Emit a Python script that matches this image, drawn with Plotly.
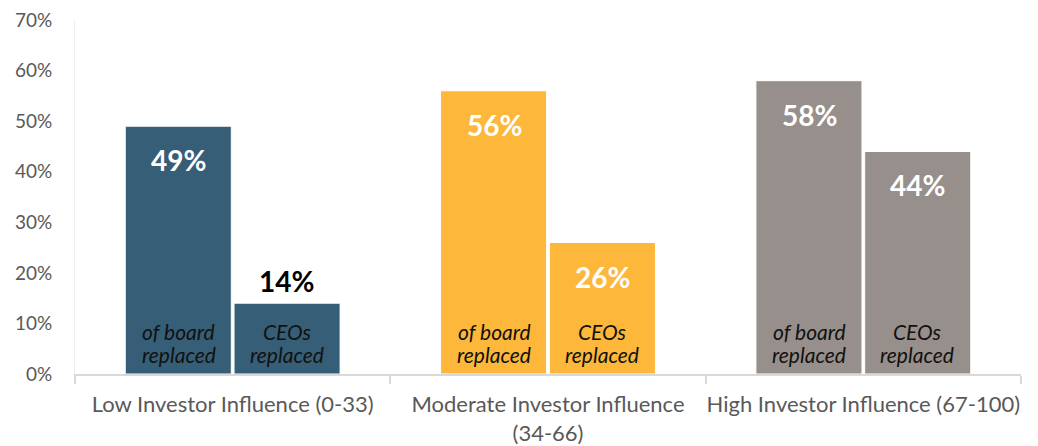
import plotly.graph_objects as go

categories = ["Low Investor Influence (0-33)", "Moderate Investor Influence<br>(34-66)", "High Investor Influence (67-100)"]
board_replaced = [49, 56, 58]
ceos_replaced = [14, 26, 44]
bar_colors = ["#365E77", "#FDB73A", "#968F8B"]
board_note = ["of board", "replaced"]
ceo_note = ["CEOs", "replaced"]
y_ticks = [0, 10, 20, 30, 40, 50, 60, 70]
y_ticktext = [f"{v}%" for v in y_ticks]

FONT = "Lato, Open Sans, sans-serif"

fig = go.Figure()
fig.add_trace(go.Bar(x=categories, y=board_replaced, marker=dict(color=bar_colors, line=dict(color="white", width=1)),
                     name="Board", hoverinfo="skip"))
fig.add_trace(go.Bar(x=categories, y=ceos_replaced, marker=dict(color=bar_colors, line=dict(color="white", width=1)),
                     name="CEO", hoverinfo="skip"))

shift = 54
annotations = []
for i, cat in enumerate(categories):
    annotations.append(dict(x=cat, y=board_replaced[i], xref="x", yref="y", xshift=-shift, yshift=-34,
                            text=f"<b>{board_replaced[i]}%</b>", showarrow=False,
                            font=dict(family=FONT, size=28, color="white")))
    inside = ceos_replaced[i] >= 20
    annotations.append(dict(x=cat, y=ceos_replaced[i], xref="x", yref="y", xshift=shift,
                            yshift=-34 if inside else 22,
                            text=f"<b>{ceos_replaced[i]}%</b>", showarrow=False,
                            font=dict(family=FONT, size=28, color="white" if inside else "black")))
    for j, ys in enumerate([43, 20]):
        annotations.append(dict(x=cat, y=0, xref="x", yref="y", xshift=-shift, yshift=ys,
                                text=f"<i>{board_note[j]}</i>", showarrow=False,
                                font=dict(family=FONT, size=21, color="#111111")))
        annotations.append(dict(x=cat, y=0, xref="x", yref="y", xshift=shift, yshift=ys,
                                text=f"<i>{ceo_note[j]}</i>", showarrow=False,
                                font=dict(family=FONT, size=21, color="#111111")))

fig.update_layout(
    width=1038, height=446,
    margin=dict(l=75, r=17, t=20, b=72, autoexpand=False),
    paper_bgcolor="white", plot_bgcolor="white",
    barmode="group", bargap=0.31, bargroupgap=0.025,
    showlegend=False,
    font=dict(family=FONT, size=18, color="#595959"),
    annotations=annotations,
    xaxis=dict(type="category", tickson="boundaries", ticks="outside", ticklen=8,
               tickcolor="#D9D9D9", tickwidth=2, showline=True, linecolor="#D9D9D9", linewidth=2,
               ticklabelstandoff=10, automargin=False, tickangle=0,
               tickfont=dict(family=FONT, size=22, color="#595959"), showgrid=False),
    yaxis=dict(range=[0, 70], tickvals=y_ticks, ticktext=y_ticktext, showgrid=False, zeroline=False,
               showline=True, linecolor="#EFEFEF", linewidth=1, ticks="", ticklabelstandoff=18,
               automargin=False,
               tickfont=dict(family=FONT, size=19, color="#595959")),
)

fig.write_html("out.html", config={"displayModeBar": False},
               post_script="document.body.style.margin='0';document.body.style.padding='0';")
